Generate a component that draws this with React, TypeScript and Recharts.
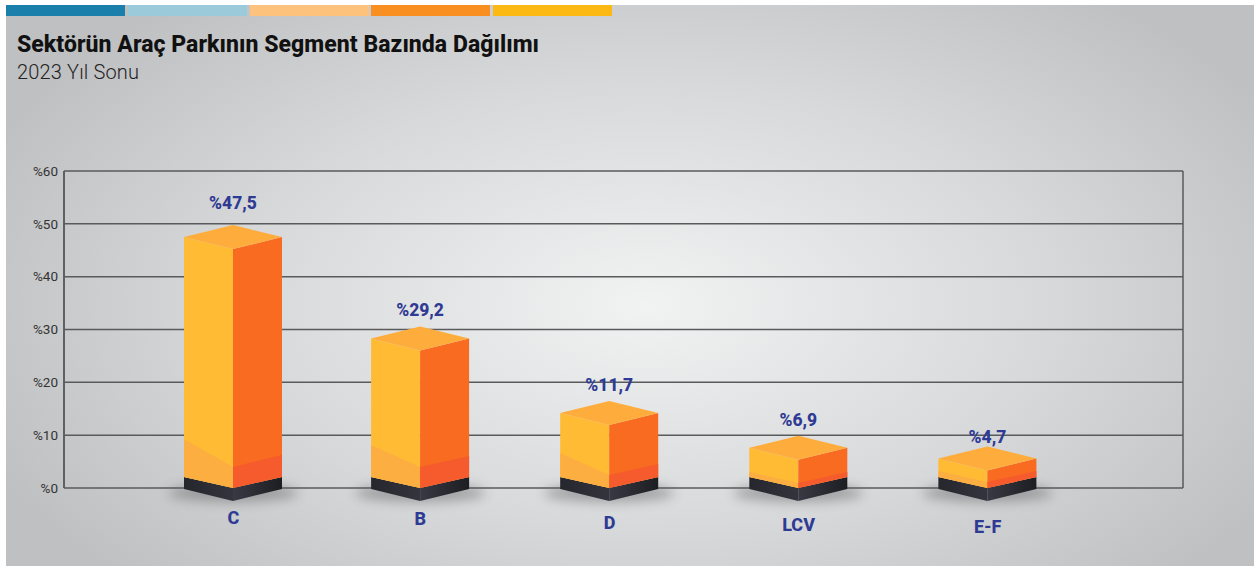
import React from 'react';
import { BarChart, Bar, XAxis, YAxis, CartesianGrid, LabelList } from 'recharts';

const categories = ['C', 'B', 'D', 'LCV', 'E-F'];
// printed shares
const shareLabels = ['%47,5', '%29,2', '%11,7', '%6,9', '%4,7'];
// drawn column heights (they differ from the printed shares)
const drawnHeights = [47.5, 28.3, 14.2, 7.6, 5.6];
const yTicks = [0, 10, 20, 30, 40, 50, 60];
const stripeColors = ['#1a80ab', '#9bcbdb', '#fdc27c', '#f98f20', '#fdb913'];

// per-column nudges and the lighter band depth on each face
const columnShift = [0, -1.5, -1, -0.5, 0];
const labelLift = [34, 28, 28, 28, 21];
const tickDrop = [21, 22, 26, 28, 30];
const bandLeft = [38, 32, 24, 5, 6];
const bandFront = [21, 21, 13, 5, 6];
const bandRight = [22, 21, 13, 5, 6];

const rows = categories.map((name, i) => ({ name, height: drawnHeights[i], label: shareLabels[i] }));

const BLUE = '#2e3a93';
const FONT = 'Roboto, sans-serif';
const LINE = '#595a5b';

function Column(props: any) {
  const { y, width, height, index } = props;
  const x = props.x + columnShift[index];
  const left = x;
  const right = x + width;
  const mid = x + width / 2;
  const base = y + height;
  const rise = 12;
  const cornerBase = base - 11;
  const pts = (list: number[][]) => list.map((p) => p.join(',')).join(' ');
  return (
    <g>
      <ellipse cx={mid} cy={base + 5} rx={width / 2 + 16} ry={9} fill="#55565a" opacity={0.45} filter="url(#plinthShadow)" />
      <polygon points={pts([[left, cornerBase], [mid, base], [mid, base + 13], [left, cornerBase + 12]])} fill="url(#plinthL)" />
      <polygon points={pts([[mid, base], [right, cornerBase], [right, cornerBase + 12], [mid, base + 13]])} fill="url(#plinthR)" />
      <polygon points={pts([[left, y], [mid, y + rise], [mid, base], [left, cornerBase]])} fill="#ffbb33" />
      <polygon points={pts([[mid, y + rise], [right, y], [right, cornerBase], [mid, base]])} fill="#f96b20" />
      <polygon points={pts([[left, cornerBase - bandLeft[index]], [mid, base - bandFront[index]], [mid, base], [left, cornerBase]])} fill="#fdae40" />
      <polygon points={pts([[mid, base - bandFront[index]], [right, cornerBase - bandRight[index]], [right, cornerBase], [mid, base]])} fill="#f55b2c" />
      <polygon points={pts([[left, y], [mid, y - rise], [right, y], [mid, y + rise]])} fill="#feac3c" />
    </g>
  );
}

function ShareLabel(props: any) {
  const { x, y, width, index, value } = props;
  return (
    <text x={x + columnShift[index] + width / 2} y={y - labelLift[index]} textAnchor="middle" dominantBaseline="central" fill={BLUE} fontFamily={FONT} fontWeight={800} fontSize={17.5}>
      {value}
    </text>
  );
}

function CategoryTick(props: any) {
  const { x, y, payload, index } = props;
  return (
    <text x={x + columnShift[index]} y={y + tickDrop[index]} textAnchor="middle" dominantBaseline="central" fill={BLUE} fontFamily={FONT} fontWeight={800} fontSize={18}>
      {payload.value}
    </text>
  );
}

export default function App() {
  return (
    <div style={{ position: 'absolute', left: 0, top: 0, width: 1254, height: 566, background: '#fff', overflow: 'hidden', fontFamily: FONT }}>
      <div style={{ position: 'absolute', left: 6, top: 5, width: 1248, height: 561, background: 'radial-gradient(ellipse 720px 400px at 640px 300px, #f1f2f2 0%, #d8d9da 55%, #bfc0c2 100%)' }} />
      {stripeColors.map((c, i) => (
        <div key={c} style={{ position: 'absolute', left: 6 + i * 121.75, top: 5, width: 119, height: 11, background: c }} />
      ))}
      <div style={{ position: 'absolute', left: 17, top: 31, fontSize: 23, fontWeight: 800, letterSpacing: 0.05, color: '#111', whiteSpace: 'nowrap' }}>
        Sektörün Araç Parkının Segment Bazında Dağılımı
      </div>
      <div style={{ position: 'absolute', left: 17, top: 60, fontSize: 20, fontWeight: 300, letterSpacing: 0.15, color: '#222', whiteSpace: 'nowrap' }}>
        2023 Yıl Sonu
      </div>
      <div style={{ position: 'absolute', left: 0, top: 0 }}>
        <BarChart width={1254} height={566} data={rows} margin={{ top: 171, right: 71, bottom: 0, left: 0 }} barSize={98}>
          <defs>
            <filter id="plinthShadow" x="-30%" y="-100%" width="160%" height="300%">
              <feGaussianBlur stdDeviation="6" />
            </filter>
            <linearGradient id="plinthL" x1="0" x2="1" y1="0" y2="0">
              <stop offset="0%" stopColor="#26272d" />
              <stop offset="100%" stopColor="#33343d" />
            </linearGradient>
            <linearGradient id="plinthR" x1="0" x2="1" y1="0" y2="0">
              <stop offset="0%" stopColor="#383943" />
              <stop offset="100%" stopColor="#1d1e22" />
            </linearGradient>
          </defs>
          <CartesianGrid stroke={LINE} strokeWidth={1.5} verticalCoordinatesGenerator={() => [64, 1183]} />
          {/* baseline comes from the grid so the plinths sit over it */}
          <XAxis dataKey="name" height={78} axisLine={false} tickLine={false} padding={{ left: 75, right: 101 }} tick={<CategoryTick />} interval={0} />
          <YAxis width={64} domain={[0, 60]} ticks={yTicks} axisLine={{ stroke: LINE, strokeWidth: 1.5 }} tickLine={false} tickMargin={0} tickFormatter={(v) => `%${v}`} tick={{ fill: '#333', fontSize: 13.5, fontFamily: FONT }} />
          <Bar dataKey="height" isAnimationActive={false} shape={<Column />}>
            <LabelList dataKey="label" content={<ShareLabel />} />
          </Bar>
        </BarChart>
      </div>
    </div>
  );
}
